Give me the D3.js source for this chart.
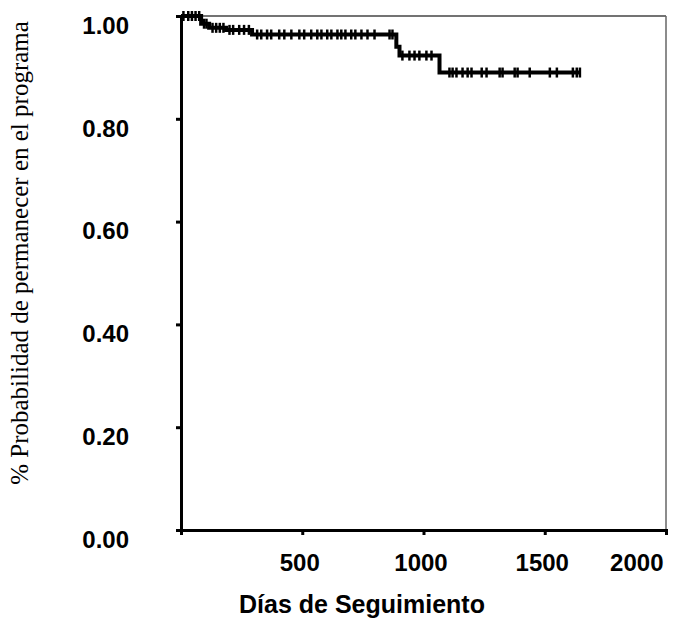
<!DOCTYPE html>
<html>
<head>
<meta charset="utf-8">
<script src="https://cdn.jsdelivr.net/npm/d3@7"></script>
<style>
  body { margin: 0; background: #fff; }
  svg { display: block; }
</style>
</head>
<body>
<svg id="chart" width="681" height="621"></svg>
<script>
// Kaplan-Meier: step times (days) and survival after each step
var stepDays = [0, 83, 116, 186, 293, 888, 901, 1066];
var stepSurv = [1.00, 0.985, 0.977, 0.973, 0.964, 0.94, 0.923, 0.890];
var lastDay = 1645;

// censored observations (days)
var censorDays = [10, 30, 45, 60, 75,
    95, 105,
    130, 145, 160, 175,
    200, 215, 240, 260, 280,
    314, 331, 355, 372, 405, 426, 455, 488, 508, 537, 562, 579, 603, 620, 645, 661, 678, 702, 719, 744, 769, 798, 860, 872,
    913, 942, 963, 983, 1012, 1033,
    1107, 1120, 1136, 1161, 1182, 1198, 1240, 1260, 1314, 1326, 1376, 1388, 1438, 1521, 1550, 1616, 1632, 1645];

var xTicks = [0, 500, 1000, 1500, 2000];
var yTicks = [0, 0.2, 0.4, 0.6, 0.8, 1.0];

var svg = d3.select("#chart");
var mLeft = 181, mRight = 666, mTop = 16, mBottom = 530;

var x = d3.scaleLinear().domain([0, 2000]).range([mLeft, mRight]);
var y = d3.scaleLinear().domain([0, 1]).range([mBottom, mTop]);

// frame (thin grey top / right)
svg.append("line").attr("x1", mLeft).attr("x2", mRight).attr("y1", mTop).attr("y2", mTop)
    .attr("stroke", "#444").attr("stroke-width", 1.5);
svg.append("line").attr("x1", mRight).attr("x2", mRight).attr("y1", mTop).attr("y2", mBottom)
    .attr("stroke", "#666").attr("stroke-width", 1.5);

// x axis
var xAxis = svg.append("g").attr("transform", "translate(0," + mBottom + ")")
    .call(d3.axisBottom(x).tickValues(xTicks).tickSize(5).tickFormat(function (d) { return d === 0 ? "" : d; }));
xAxis.select(".domain").attr("stroke", "#000").attr("stroke-width", 3);
xAxis.selectAll(".tick line").attr("stroke", "#000").attr("stroke-width", 3);
xAxis.selectAll(".tick text")
    .attr("font-family", "Arial, 'Liberation Sans', sans-serif")
    .attr("font-weight", "bold").attr("font-size", "24px").attr("fill", "#000")
    .attr("y", 24).attr("dy", "0.71em").attr("dx", -3);
// last label sits inside the picture, right-aligned
xAxis.selectAll(".tick text").filter(function (d) { return d === 2000; })
    .attr("text-anchor", "end").attr("dx", -3);

// y axis
var yAxis = svg.append("g").attr("transform", "translate(" + mLeft + ",0)")
    .call(d3.axisLeft(y).tickValues(yTicks).tickSize(5).tickFormat(d3.format(".2f")));
yAxis.select(".domain").attr("stroke", "#000").attr("stroke-width", 3);
yAxis.selectAll(".tick line").attr("stroke", "#000").attr("stroke-width", 3);
yAxis.selectAll(".tick text")
    .attr("font-family", "Arial, 'Liberation Sans', sans-serif")
    .attr("font-weight", "bold").attr("font-size", "24px").attr("fill", "#000")
    .attr("x", -52).attr("dy", "0.72em");

// survival step curve
var pts = stepDays.map(function (d, i) { return [d, stepSurv[i]]; });
pts.push([lastDay, stepSurv[stepSurv.length - 1]]);
var line = d3.line().x(function (d) { return x(d[0]); }).y(function (d) { return y(d[1]); }).curve(d3.curveStepAfter);
svg.append("path").datum(pts).attr("d", line)
    .attr("fill", "none").attr("stroke", "#000").attr("stroke-width", 4);

function survAt(t) {
    var s = stepSurv[0];
    for (var i = 0; i < stepDays.length; i++) if (stepDays[i] <= t) s = stepSurv[i];
    return s;
}

// censor marks
svg.append("g").selectAll("line").data(censorDays).enter().append("line")
    .attr("x1", function (d) { return x(d); }).attr("x2", function (d) { return x(d); })
    .attr("y1", function (d) { return y(survAt(d)) - 5; })
    .attr("y2", function (d) { return y(survAt(d)) + 5; })
    .attr("stroke", "#000").attr("stroke-width", 2.5);

// titles
svg.append("text").attr("x", 362).attr("y", 613).attr("text-anchor", "middle")
    .attr("font-family", "Arial, 'Liberation Sans', sans-serif")
    .attr("font-weight", "bold").attr("font-size", "25px")
    .text("Días de Seguimiento");

svg.append("text").attr("transform", "translate(28,253) rotate(-90)").attr("text-anchor", "middle")
    .attr("font-family", "'Times New Roman', 'Liberation Serif', serif")
    .attr("font-size", "25px")
    .text("% Probabilidad de permanecer en el programa");
</script>
</body>
</html>
